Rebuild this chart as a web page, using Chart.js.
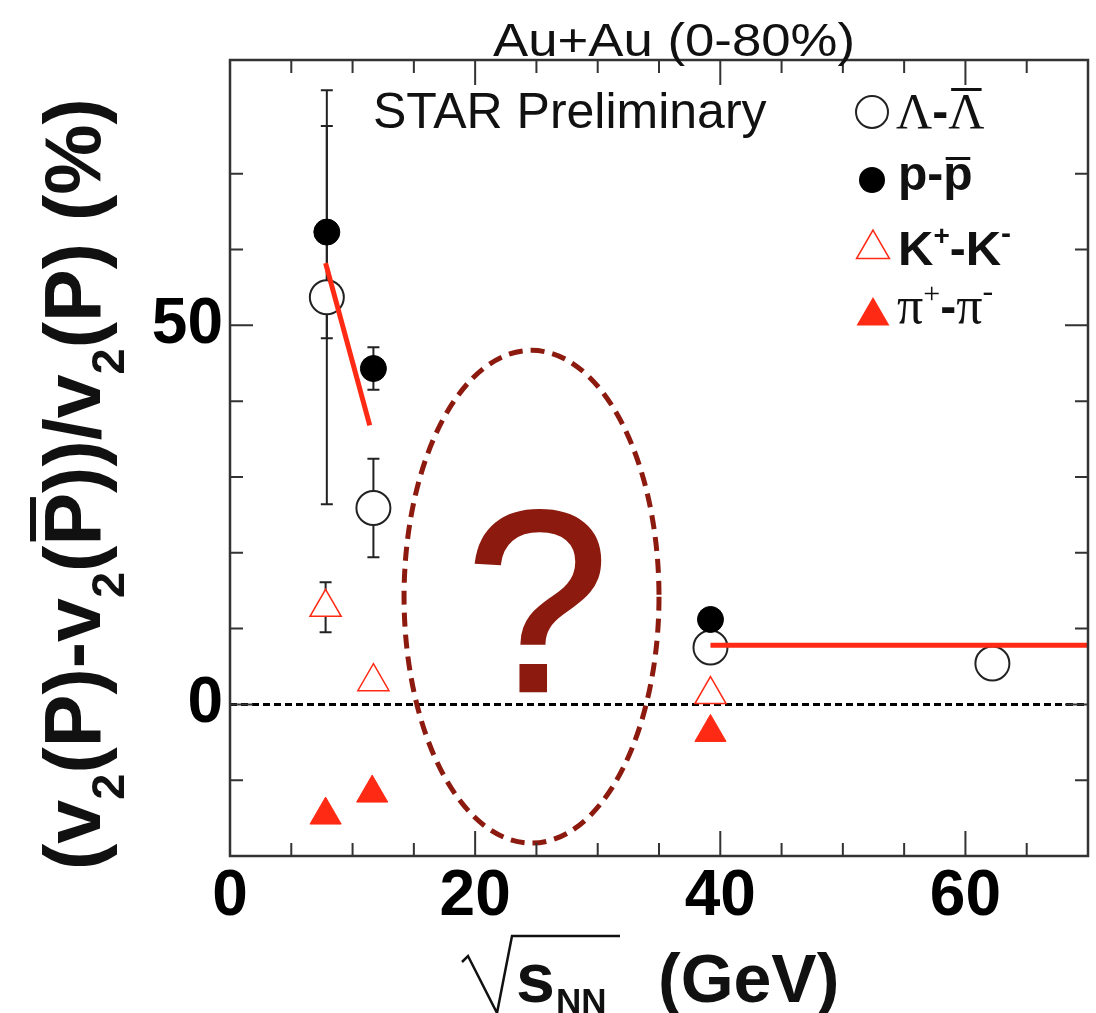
<!DOCTYPE html>
<html>
<head>
<meta charset="utf-8">
<title>v2 difference vs beam energy</title>
<script src="https://cdn.jsdelivr.net/npm/chart.js@4.4.0/dist/chart.umd.min.js"></script>
<style>
  html, body { margin: 0; padding: 0; background: #fff; }
  #wrap { width: 1096px; height: 1013px; }
</style>
</head>
<body>
<div id="wrap"><canvas id="v2Chart" width="1096" height="1013"></canvas></div>
<script>
// sqrt(s_NN) in GeV and (v2(P)-v2(Pbar))/v2(P) in %
const lambdaX = [7.9, 11.7, 39.2, 62.2];
const lambdaY = [53.7, 25.9, 7.5, 5.4];
const lambdaErr = [27.3, 6.5, null, null];

const protonX = [7.9, 11.7, 39.2];
const protonY = [62.3, 44.3, 11.2];
const protonErr = [14.0, 2.8, null];

const kaonX = [7.8, 11.7, 39.2];
const kaonY = [12.8, 3.0, 1.3];
const kaonErr = [3.3, null, null];

const pionX = [7.8, 11.6, 39.2];
const pionY = [-14.6, -11.7, -3.7];

// red fit lines
const fitLowX = [7.8, 11.4];
const fitLowY = [58.2, 36.8];
const fitHighX = [39.2, 70];
const fitHighY = [7.8, 7.8];

const zeroX = [0, 70];
const zeroY = [0, 0];

// tick labels that are printed
const xLabels = [0, 20, 40, 60];
const yLabels = [0, 50];

// the dashed "?" region (data coords)
const markCenter = [24.6, 14.2];
const markRadius = [10.4, 32.5];

const RED = '#ff2a14';
const DARKRED = '#8c1a0e';
const SANS = '"Liberation Sans", Arial, Helvetica, sans-serif';
const SERIF = '"Liberation Serif", "Times New Roman", serif';

const pts = (xs, ys) => xs.map((x, i) => ({ x: x, y: ys[i] }));

function drawCircle(ctx, x, y, r, fill, stroke, lw) {
    ctx.beginPath();
    ctx.arc(x, y, r, 0, Math.PI * 2);
    if (fill) { ctx.fillStyle = fill; ctx.fill(); }
    if (stroke) { ctx.strokeStyle = stroke; ctx.lineWidth = lw; ctx.stroke(); }
}

function drawTriangle(ctx, x, y, r, fill, stroke, lw) {
    const hw = r * Math.sin(Math.PI / 3);
    ctx.beginPath();
    ctx.moveTo(x, y - r);
    ctx.lineTo(x + hw, y + r / 2);
    ctx.lineTo(x - hw, y + r / 2);
    ctx.closePath();
    if (fill) { ctx.fillStyle = fill; ctx.fill(); }
    if (stroke) { ctx.strokeStyle = stroke; ctx.lineWidth = lw; ctx.stroke(); }
}

// text made of pieces (subscripts, superscripts, overlines)
function richText(ctx, parts, x, y, dry) {
    let cx = x;
    parts.forEach(p => {
        ctx.font = p.font;
        const w = ctx.measureText(p.t).width;
        if (!dry) {
            ctx.fillText(p.t, cx, y + (p.dy || 0));
            if (p.over) ctx.fillRect(cx + w * 0.08, y + p.over, w * 0.84, p.lw || 3);
        }
        cx += w + (p.gap || 0);
    });
    return cx - x;
}

const errorBars = {
    id: 'errorBars',
    beforeDatasetsDraw(chart) {
        const { ctx, scales: { x, y } } = chart;
        ctx.save();
        ctx.strokeStyle = '#222';
        ctx.lineWidth = 2;
        chart.data.datasets.forEach(ds => {
            if (!ds.errors) return;
            ds.data.forEach((p, i) => {
                const e = ds.errors[i];
                if (e == null) return;
                const px = x.getPixelForValue(p.x);
                const top = y.getPixelForValue(p.y + e);
                const bot = y.getPixelForValue(p.y - e);
                ctx.beginPath();
                ctx.moveTo(px, top); ctx.lineTo(px, bot);
                ctx.moveTo(px - 6, top); ctx.lineTo(px + 6, top);
                ctx.moveTo(px - 6, bot); ctx.lineTo(px + 6, bot);
                ctx.stroke();
            });
        });
        ctx.restore();
    }
};

const questionMark = {
    id: 'questionMark',
    afterDatasetsDraw(chart) {
        const { ctx, scales: { x, y } } = chart;
        const cx = x.getPixelForValue(markCenter[0]);
        const cy = y.getPixelForValue(markCenter[1]);
        const rx = x.getPixelForValue(markCenter[0] + markRadius[0]) - cx;
        const ry = cy - y.getPixelForValue(markCenter[1] + markRadius[1]);
        ctx.save();
        ctx.strokeStyle = DARKRED;
        ctx.lineWidth = 5;
        ctx.setLineDash([14, 8]);
        ctx.beginPath();
        ctx.ellipse(cx, cy, rx, ry, 0, 0, Math.PI * 2);
        ctx.stroke();
        ctx.setLineDash([]);
        ctx.font = '258px ' + SANS;
        ctx.textAlign = 'center';
        ctx.textBaseline = 'alphabetic';
        ctx.fillStyle = DARKRED;
        ctx.strokeStyle = DARKRED;
        ctx.lineWidth = 3;
        ctx.fillText('?', cx + 6, cy + 94);
        ctx.strokeText('?', cx + 6, cy + 94);
        ctx.restore();
    }
};

const frameAndText = {
    id: 'frameAndText',
    afterDraw(chart) {
        const { ctx, chartArea: a, scales: { x, y } } = chart;
        ctx.save();
        // frame
        ctx.strokeStyle = '#333';
        ctx.lineWidth = 2.5;
        ctx.strokeRect(a.left, a.top, a.right - a.left, a.bottom - a.top);

        // inward ticks on all four sides
        ctx.lineWidth = 2;
        ctx.beginPath();
        x.ticks.forEach(t => {
            if (t.value % 5) return;
            const px = x.getPixelForValue(t.value);
            const len = xLabels.includes(t.value) ? 25 : 13;
            ctx.moveTo(px, a.bottom); ctx.lineTo(px, a.bottom - len);
            ctx.moveTo(px, a.top); ctx.lineTo(px, a.top + len);
        });
        y.ticks.forEach(t => {
            if (t.value % 10) return;
            const py = y.getPixelForValue(t.value);
            const len = yLabels.includes(t.value) ? 23 : 13;
            ctx.moveTo(a.left, py); ctx.lineTo(a.left + len, py);
            ctx.moveTo(a.right, py); ctx.lineTo(a.right - len, py);
        });
        ctx.stroke();

        ctx.fillStyle = '#111';
        ctx.textBaseline = 'alphabetic';
        ctx.textAlign = 'left';

        // top title, narrow face
        ctx.font = '46px ' + SANS;
        const title = 'Au+Au (0-80%)';
        const tw = ctx.measureText(title).width;
        const sx = 362 / tw;
        ctx.save();
        ctx.translate(674, 56);
        ctx.scale(sx, 1);
        ctx.textAlign = 'center';
        ctx.fillText(title, 0, 0);
        ctx.restore();

        // STAR Preliminary
        ctx.font = '50px ' + SANS;
        ctx.fillText('STAR Preliminary', 373, 128);

        // legend
        drawCircle(ctx, 872, 112, 16, '#fff', '#222', 2);
        drawCircle(ctx, 872, 180, 13, '#000');
        drawTriangle(ctx, 873, 249, 19, '#fff', RED, 1.5);
        drawTriangle(ctx, 873, 316, 19, RED);
        ctx.fillStyle = '#111';
        const bold = s => 'bold ' + s + 'px ' + SANS;
        const serif = s => s + 'px ' + SERIF;
        richText(ctx, [
            { t: 'Λ', font: serif(50) },
            { t: '-', font: bold(48) },
            { t: 'Λ', font: serif(50), over: -40 }
        ], 896, 128);
        richText(ctx, [
            { t: 'p-', font: bold(48) },
            { t: 'p', font: bold(48), over: -33 }
        ], 898, 190);
        richText(ctx, [
            { t: 'K', font: bold(49) },
            { t: '+', font: bold(28), dy: -20 },
            { t: '-', font: bold(48) },
            { t: 'K', font: bold(49) },
            { t: '-', font: bold(30), dy: -22 }
        ], 898, 265);
        richText(ctx, [
            { t: 'π', font: serif(52) },
            { t: '+', font: serif(30), dy: -20 },
            { t: '-', font: bold(48) },
            { t: 'π', font: serif(52) },
            { t: '-', font: serif(32), dy: -22 }
        ], 897, 323);

        // x axis title: sqrt(s_NN) (GeV)
        ctx.strokeStyle = '#111';
        ctx.lineWidth = 2.5;
        ctx.beginPath();
        ctx.moveTo(462, 962);
        ctx.lineTo(468, 956);
        ctx.lineTo(497, 1013);
        ctx.lineTo(512, 936);
        ctx.lineTo(620, 936);
        ctx.stroke();
        ctx.font = bold(70);
        ctx.fillText('s', 516, 1002);
        const ws = ctx.measureText('s').width;
        ctx.font = bold(35);
        ctx.fillText('NN', 516 + ws + 1, 1013);
        ctx.font = bold(68);
        ctx.fillText('(GeV)', 658, 1002);

        // y axis title, rotated
        const yParts = F => {
            const sub = { t: '2', font: bold(Math.round(F * 0.6)), dy: Math.round(F * 0.3) };
            return [
                { t: '(v', font: bold(F) }, sub,
                { t: '(P)-v', font: bold(F) }, sub,
                { t: '(', font: bold(F) },
                { t: 'P', font: bold(F), over: -Math.round(F * 0.88), lw: Math.round(F * 0.07) },
                { t: '))/v', font: bold(F) }, sub,
                { t: '(P) (%)', font: bold(F) }
            ];
        };
        const w100 = richText(ctx, yParts(100), 0, 0, true);
        const F = Math.round(100 * 777 / w100);
        ctx.save();
        ctx.translate(100, 870);
        ctx.rotate(-Math.PI / 2);
        richText(ctx, yParts(F), 0, 0);
        ctx.restore();

        ctx.restore();
    }
};

const ctxV2 = document.getElementById('v2Chart').getContext('2d');
new Chart(ctxV2, {
    type: 'scatter',
    data: {
        datasets: [
            {
                label: 'fit low',
                data: pts(fitLowX, fitLowY),
                showLine: true,
                borderColor: RED,
                borderWidth: 5,
                pointRadius: 0
            },
            {
                label: 'fit high',
                data: pts(fitHighX, fitHighY),
                showLine: true,
                borderColor: RED,
                borderWidth: 5,
                pointRadius: 0
            },
            {
                label: 'p-pbar',
                data: pts(protonX, protonY),
                errors: protonErr,
                pointStyle: 'circle',
                pointRadius: 13,
                backgroundColor: '#000',
                borderColor: '#000',
                borderWidth: 1
            },
            {
                label: 'Lambda-Lambdabar',
                data: pts(lambdaX, lambdaY),
                errors: lambdaErr,
                pointStyle: 'circle',
                pointRadius: 17,
                backgroundColor: '#fff',
                borderColor: '#222',
                borderWidth: 2
            },
            {
                label: 'K+-K-',
                data: pts(kaonX, kaonY),
                errors: kaonErr,
                pointStyle: 'triangle',
                pointRadius: 18,
                backgroundColor: '#fff',
                borderColor: RED,
                borderWidth: 1.5
            },
            {
                label: 'pi+-pi-',
                data: pts(pionX, pionY),
                pointStyle: 'triangle',
                pointRadius: 18,
                backgroundColor: RED,
                borderColor: RED,
                borderWidth: 1
            },
            {
                label: 'zero',
                data: pts(zeroX, zeroY),
                showLine: true,
                borderColor: '#000',
                borderWidth: 3,
                borderDash: [7, 4],
                pointRadius: 0
            }
        ]
    },
    options: {
        responsive: false,
        animation: false,
        devicePixelRatio: 1,
        events: [],
        layout: { autoPadding: false, padding: { top: 60, right: 8, left: 0, bottom: 0 } },
        plugins: {
            legend: { display: false },
            tooltip: { enabled: false },
            title: { display: false }
        },
        scales: {
            x: {
                type: 'linear',
                min: 0,
                max: 70,
                grid: { display: false, drawTicks: false },
                border: { display: false },
                afterFit: s => { s.height = 157; s.paddingLeft = 0; s.paddingRight = 0; },
                ticks: {
                    stepSize: 5,
                    autoSkip: false,
                    maxRotation: 0,
                    padding: 3,
                    color: '#000',
                    font: { family: SANS, size: 64, weight: 'bold' },
                    callback: v => xLabels.includes(v) ? String(v) : ''
                }
            },
            y: {
                type: 'linear',
                min: -20,
                max: 85,
                grid: { display: false, drawTicks: false },
                border: { display: false },
                afterFit: s => { s.width = 230; s.paddingTop = 0; s.paddingBottom = 0; },
                ticks: {
                    stepSize: 10,
                    autoSkip: false,
                    padding: 7,
                    color: '#000',
                    font: { family: SANS, size: 64, weight: 'bold' },
                    callback: v => yLabels.includes(v) ? String(v) : ''
                }
            }
        }
    },
    plugins: [errorBars, questionMark, frameAndText]
});
</script>
</body>
</html>
